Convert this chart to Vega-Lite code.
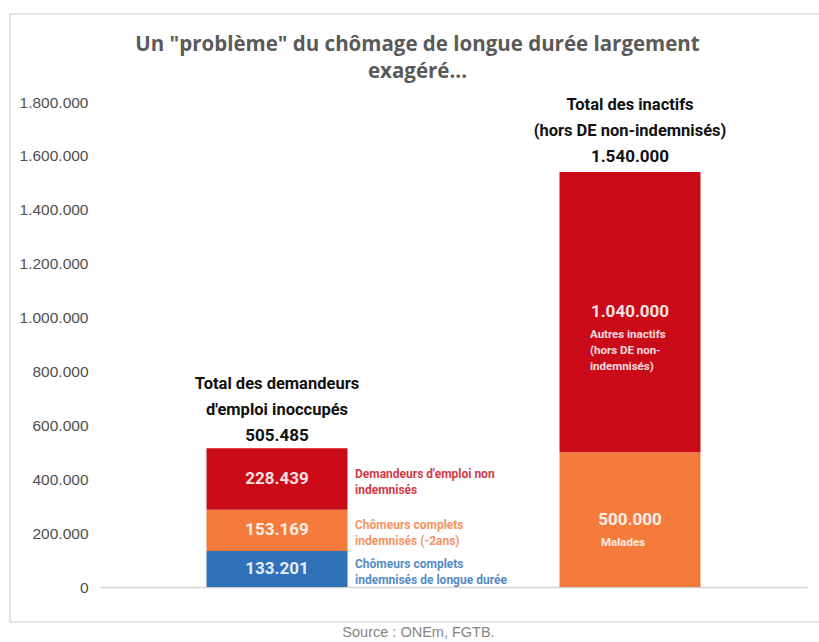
{
  "$schema": "https://vega.github.io/schema/vega-lite/v6.json",
  "width": 815,
  "height": 608,
  "padding": {"left": 10, "top": 14, "right": 0, "bottom": 0},
  "autosize": {"type": "pad"},
  "background": "white",
  "config": {
    "locale": {"number": {"decimal": ",", "thousands": ".", "grouping": [3], "currency": ["", " €"]}},
    "view": {"stroke": "#dddddd", "strokeWidth": 1.5},
    "text": {"lineBreak": "\n"}
  },
  "title": {
    "text": ["Un \"problème\" du chômage de longue durée largement", "exagéré..."],
    "anchor": "middle",
    "frame": "group",
    "orient": "top",
    "offset": -68,
    "font": "Open Sans",
    "fontSize": 20.5,
    "fontWeight": "bold",
    "color": "#5a5a5a",
    "lineHeight": 27
  },
  "datasets": {
    "segments": [
      {"groupe": "Demandeurs d'emploi inoccupés", "categorie": "Chômeurs complets indemnisés de longue durée", "libelle": "Chômeurs complets\nindemnisés de longue durée", "valeur": 133201, "ordre": 1},
      {"groupe": "Demandeurs d'emploi inoccupés", "categorie": "Chômeurs complets indemnisés (-2ans)", "libelle": "Chômeurs complets\nindemnisés (-2ans)", "valeur": 153169, "ordre": 2},
      {"groupe": "Demandeurs d'emploi inoccupés", "categorie": "Demandeurs d'emploi non indemnisés", "libelle": "Demandeurs d'emploi non\nindemnisés", "valeur": 228439, "ordre": 3},
      {"groupe": "Inactifs", "categorie": "Malades", "libelle": "Malades", "valeur": 500000, "ordre": 1},
      {"groupe": "Inactifs", "categorie": "Autres inactifs (hors DE non-indemnisés)", "libelle": "Autres inactifs\n(hors DE non-\nindemnisés)", "valeur": 1040000, "ordre": 2}
    ],
    "totaux": [
      {"groupe": "Demandeurs d'emploi inoccupés", "total": 505485, "titre": "Total des demandeurs\nd'emploi inoccupés"},
      {"groupe": "Inactifs", "total": 1540000, "titre": "Total des inactifs\n(hors DE non-indemnisés)"}
    ]
  },
  "encoding": {
    "x": {
      "field": "groupe",
      "type": "nominal",
      "sort": ["Demandeurs d'emploi inoccupés", "Inactifs"],
      "scale": {"range": [90, 797], "paddingInner": 0.6006, "paddingOuter": 0.3017},
      "axis": {
        "orient": "bottom",
        "offset": -35,
        "labels": false,
        "ticks": false,
        "domain": true,
        "domainColor": "#d2d2d2",
        "domainWidth": 1.5,
        "grid": false,
        "title": "Source : ONEm, FGTB.",
        "titleFont": "Liberation Sans",
        "titleFontSize": 14.5,
        "titleFontWeight": "normal",
        "titleColor": "#858585",
        "titleX": 408,
        "titleY": 45,
        "titleAlign": "center",
        "titleBaseline": "middle"
      }
    }
  },
  "layer": [
    {
      "data": {"name": "segments"},
      "transform": [
        {"stack": "valeur", "groupby": ["groupe"], "sort": [{"field": "ordre", "order": "ascending"}], "as": ["bas", "haut"]}
      ],
      "mark": {"type": "bar"},
      "encoding": {
        "y": {
          "field": "haut",
          "type": "quantitative",
          "scale": {"domain": [-129897, 2126598], "nice": false, "zero": false},
          "axis": {
            "title": null,
            "orient": "left",
            "offset": -78,
            "values": [0, 200000, 400000, 600000, 800000, 1000000, 1200000, 1400000, 1600000, 1800000],
            "format": ",d",
            "domain": false,
            "ticks": false,
            "tickSize": 0,
            "labelPadding": 0,
            "grid": false,
            "labelFont": "Liberation Sans",
            "labelFontSize": 15.5,
            "labelColor": "#4f4f4f"
          }
        },
        "y2": {"field": "bas"},
        "color": {
          "field": "categorie",
          "type": "nominal",
          "legend": null,
          "scale": {
            "domain": ["Chômeurs complets indemnisés de longue durée", "Chômeurs complets indemnisés (-2ans)", "Demandeurs d'emploi non indemnisés", "Malades", "Autres inactifs (hors DE non-indemnisés)"],
            "range": ["#2f72ba", "#f47b3c", "#cb0a18", "#f47b3c", "#cb0a18"]
          }
        }
      }
    },
    {
      "data": {"name": "segments"},
      "transform": [
        {"stack": "valeur", "groupby": ["groupe"], "sort": [{"field": "ordre", "order": "ascending"}], "as": ["bas", "haut"]},
        {"calculate": "(datum.bas + datum.haut) / 2", "as": "milieu"}
      ],
      "mark": {"type": "text", "font": "Roboto", "fontWeight": "bold", "fontSize": 17, "fill": "#ffffff", "opacity": 0.88, "baseline": "middle", "align": "center"},
      "encoding": {
        "y": {"field": "milieu", "type": "quantitative"},
        "text": {"field": "valeur", "type": "quantitative", "format": ",d"}
      }
    },
    {
      "data": {"name": "segments"},
      "transform": [
        {"filter": "datum.groupe === \"Demandeurs d'emploi inoccupés\""},
        {"stack": "valeur", "groupby": ["groupe"], "sort": [{"field": "ordre", "order": "ascending"}], "as": ["bas", "haut"]},
        {"calculate": "(datum.bas + datum.haut) / 2", "as": "milieu"}
      ],
      "mark": {"type": "text", "font": "Roboto", "fontWeight": "bold", "fontSize": 12, "opacity": 0.82, "baseline": "middle", "align": "left", "dx": 78, "dy": -5, "lineHeight": 16},
      "encoding": {
        "y": {"field": "milieu", "type": "quantitative"},
        "text": {"field": "libelle", "type": "nominal"},
        "color": {"field": "categorie", "type": "nominal", "legend": null}
      }
    },
    {
      "data": {"name": "segments"},
      "transform": [
        {"stack": "valeur", "groupby": ["groupe"], "sort": [{"field": "ordre", "order": "ascending"}], "as": ["bas", "haut"]},
        {"calculate": "(datum.bas + datum.haut) / 2", "as": "milieu"},
        {"filter": "datum.categorie === 'Autres inactifs (hors DE non-indemnisés)'"}
      ],
      "mark": {"type": "text", "font": "Roboto", "fontWeight": "bold", "fontSize": 11.5, "fill": "#ffffff", "opacity": 0.85, "baseline": "top", "align": "left", "dx": -40, "dy": 17, "lineHeight": 16},
      "encoding": {
        "y": {"field": "milieu", "type": "quantitative"},
        "text": {"field": "libelle", "type": "nominal"}
      }
    },
    {
      "data": {"name": "segments"},
      "transform": [
        {"stack": "valeur", "groupby": ["groupe"], "sort": [{"field": "ordre", "order": "ascending"}], "as": ["bas", "haut"]},
        {"calculate": "(datum.bas + datum.haut) / 2", "as": "milieu"},
        {"filter": "datum.categorie === 'Malades'"}
      ],
      "mark": {"type": "text", "font": "Roboto", "fontWeight": "bold", "fontSize": 11.5, "fill": "#ffffff", "opacity": 0.85, "baseline": "top", "align": "left", "dx": -29, "dy": 17, "lineHeight": 16},
      "encoding": {
        "y": {"field": "milieu", "type": "quantitative"},
        "text": {"field": "libelle", "type": "nominal"}
      }
    },
    {
      "data": {"name": "totaux"},
      "mark": {"type": "text", "font": "Roboto", "fontWeight": "bold", "fontSize": 17, "fill": "#111111", "baseline": "middle", "align": "center", "dy": -15},
      "encoding": {
        "y": {"field": "total", "type": "quantitative"},
        "text": {"field": "total", "type": "quantitative", "format": ",d"}
      }
    },
    {
      "data": {"name": "totaux"},
      "mark": {"type": "text", "font": "Roboto", "fontWeight": "bold", "fontSize": 16.5, "fill": "#111111", "baseline": "middle", "align": "center", "dy": -67, "lineHeight": 26},
      "encoding": {
        "y": {"field": "total", "type": "quantitative"},
        "text": {"field": "titre", "type": "nominal"}
      }
    }
  ]
}
